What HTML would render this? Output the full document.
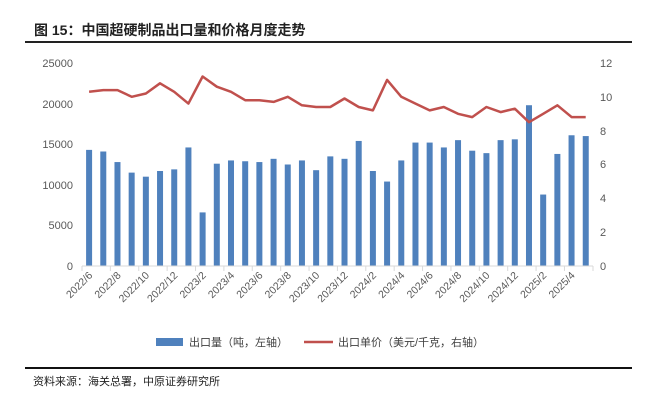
<!DOCTYPE html>
<html><head><meta charset="utf-8"><style>
body{margin:0;background:#fff;}
svg{display:block;font-family:"Liberation Sans","Noto Sans CJK SC",sans-serif;}
</style></head><body>
<svg width="647" height="401" xmlns="http://www.w3.org/2000/svg">
<text x="34" y="35" font-size="14" font-weight="bold" fill="#222">图 15：中国超硬制品出口量和价格月度走势</text>
<rect x="25" y="41" width="607" height="2" fill="#222"/>
<g font-size="11" fill="#595959" text-anchor="end">
<text x="73" y="67">25000</text><text x="73" y="108">20000</text><text x="73" y="148">15000</text>
<text x="73" y="189">10000</text><text x="73" y="229">5000</text><text x="73" y="270">0</text>
</g>
<g font-size="11" fill="#595959">
<text x="600" y="67">12</text><text x="600" y="101">10</text><text x="600" y="135">8</text>
<text x="600" y="168">6</text><text x="600" y="202">4</text><text x="600" y="236">2</text><text x="600" y="270">0</text>
</g>
<g id="bars" fill="#4f81bd"></g>
<line x1="82" y1="266" x2="593" y2="266" stroke="#d9d9d9"/>
<g id="ticks" stroke="#d9d9d9"></g>
<polyline id="ln" fill="none" stroke="#c0504d" stroke-width="2.5" stroke-linejoin="round"/>
<g id="lbl" font-size="10.5" fill="#595959" text-anchor="end"></g>
<rect x="156" y="338" width="27" height="8" fill="#4f81bd"/>
<text x="189" y="346" font-size="11" fill="#404040">出口量（吨，左轴）</text>
<line x1="304" y1="342" x2="333" y2="342" stroke="#c0504d" stroke-width="2.5"/>
<text x="338" y="346" font-size="11" fill="#404040">出口单价（美元/千克，右轴）</text>
<rect x="25" y="367" width="607" height="2" fill="#111"/>
<text x="33" y="385" font-size="11" fill="#222">资料来源：海关总署，中原证券研究所</text>
<script>
var b=[14300,14100,12800,11500,11000,11700,11900,14600,6600,12600,13000,12900,12800,13200,12500,13000,11800,13500,13200,15400,11700,10400,13000,15200,15200,14600,15500,14200,13900,15500,15600,19800,8800,13800,16100,16000];
var l=[10.3,10.4,10.4,10.0,10.2,10.8,10.3,9.6,11.2,10.6,10.3,9.8,9.8,9.7,10.0,9.5,9.4,9.4,9.9,9.4,9.2,11.0,10.0,9.6,9.2,9.4,9.0,8.8,9.4,9.1,9.3,8.5,9.0,9.5,8.8,8.8];
var ns="http://www.w3.org/2000/svg",w=14.19,x0=82,y0=266;
var bg=document.getElementById('bars'),tg=document.getElementById('ticks'),lg=document.getElementById('lbl'),pts=[];
for(var i=0;i<36;i++){var cx=x0+w*(i+0.5);var h=b[i]*203/25000;
var r=document.createElementNS(ns,'rect');r.setAttribute('x',cx-3);r.setAttribute('y',y0-h);r.setAttribute('width',6);r.setAttribute('height',h);bg.appendChild(r);
pts.push(cx.toFixed(1)+','+(y0-l[i]*203/12).toFixed(1));
if(i%2==0){var t=document.createElementNS(ns,'line');var tx=x0+w*i;t.setAttribute('x1',tx);t.setAttribute('x2',tx);t.setAttribute('y1',266);t.setAttribute('y2',271);tg.appendChild(t);
var m=6+i,yr=2022+Math.floor((m-1)/12),mo=(m-1)%12+1;var s=document.createElementNS(ns,'text');s.setAttribute('transform','translate('+(cx+4)+',276) rotate(-45)');s.textContent=yr+'/'+mo;lg.appendChild(s);}}
var t=document.createElementNS(ns,'line');t.setAttribute('x1',593);t.setAttribute('x2',593);t.setAttribute('y1',266);t.setAttribute('y2',271);tg.appendChild(t);
document.getElementById('ln').setAttribute('points',pts.join(' '));
</script>
</svg>
</body></html>
